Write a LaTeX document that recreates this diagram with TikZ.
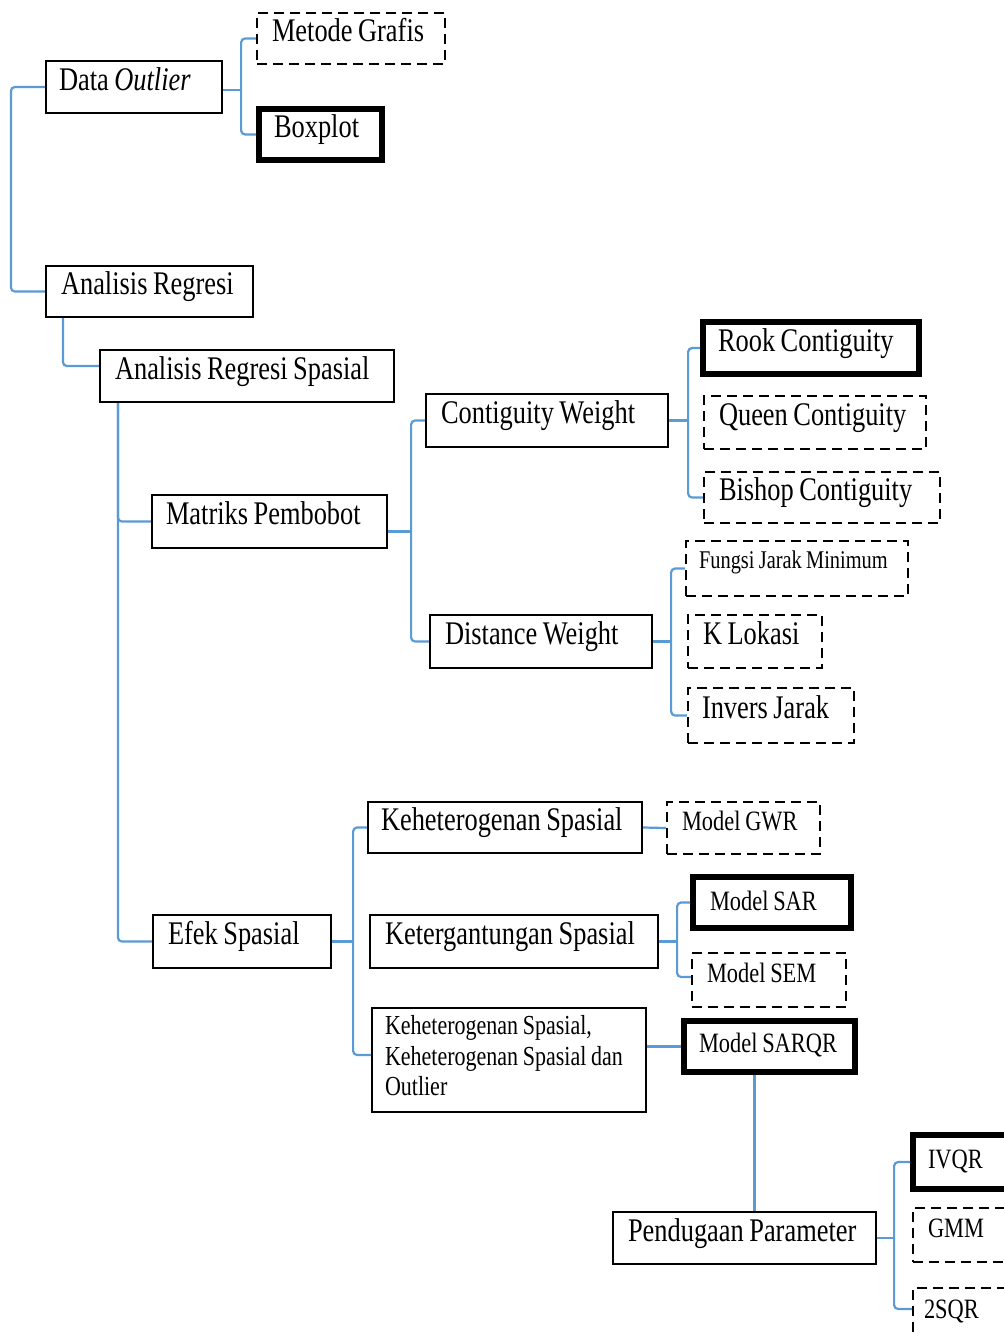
\documentclass[tikz,border=0pt]{standalone}
\usepackage{fontspec}
\setmainfont[FakeStretch=0.8]{Liberation Serif}
\newcommand\FntBig{\fontsize{33}{36}\selectfont\fontdimen2\font=5.5pt\fontdimen3\font=0pt\fontdimen4\font=0pt}
\newcommand\FntSm{\fontsize{28}{30}\selectfont\fontdimen2\font=4.8pt\fontdimen3\font=0pt\fontdimen4\font=0pt}
\newcommand\FntFj{\fontsize{25.5}{28}\selectfont\fontdimen2\font=4.3pt\fontdimen3\font=0pt\fontdimen4\font=0pt}
\newcommand\FntTl{\fontsize{27.5}{30.5}\selectfont\fontdimen2\font=4.7pt\fontdimen3\font=0pt\fontdimen4\font=0pt}
\definecolor{connblue}{RGB}{91,155,213}
\tikzset{
  bx/.style={rectangle, draw=black, line width=2.2pt, fill=white, inner xsep=15pt, inner ysep=0pt, align=left,
    execute at begin node={\spaceskip=0pt\xspaceskip=0pt}},
  bg/.style={font=\FntBig, text height=24pt, text depth=18pt},
  sm/.style={font=\FntSm, text height=20pt, text depth=#1},
  sm/.default=16pt,
  thk/.style={line width=6pt},
  dsh/.style={dash pattern=on 10pt off 6pt},
  wh/.style 2 args={minimum width=#1pt, minimum height=#2pt},
  conn/.style={draw=connblue, line width=2.2pt, rounded corners=4pt},
}
\begin{document}
\begin{tikzpicture}[x=1pt,y=-1pt]
\useasboundingbox (0,0) rectangle (1004,1336);
\clip (0,0) rectangle (1004,1336);
\fill[white] (0,0) rectangle (1004,1336);

% top part
\node[bx, bg, dsh, wh={188}{51}, text width=158pt] (MG) at (351,38.5) {\mbox{Metode Grafis}};
\node[bx, bg, wh={176}{52}, text width=150pt, inner xsep=13pt] (DO) at (134,87) {\mbox{Data \textit{Outlier}}};
\node[bx, bg, thk, wh={123}{51}, text width=93pt] (BP) at (320.5,134.5) {\mbox{Boxplot}};
\node[bx, bg, wh={207}{51}, text width=177pt] (AR) at (149.5,291.5) {\mbox{Analisis Regresi}};
\node[bx, bg, wh={294}{52}, text width=264pt] (ARS) at (247,376) {\mbox{Analisis Regresi Spasial}};

% matriks pembobot
\node[bx, bg, wh={235}{53}, text width=207pt, inner xsep=14pt] (MP) at (269.5,521.5) {\mbox{Matriks Pembobot}};
\node[bx, bg, wh={242}{53}, text width=212pt] (CW) at (547,420.5) {\mbox{Contiguity Weight}};
\node[bx, bg, thk, wh={216}{52}, text width=186pt] (RC) at (811,348) {\mbox{Rook Contiguity}};
\node[bx, bg, dsh, wh={222}{53}, text width=192pt] (QC) at (815,422.5) {\mbox{Queen Contiguity}};
\node[bx, bg, dsh, wh={236}{51}, text width=206pt] (BC) at (822,497.5) {\mbox{Bishop Contiguity}};
\node[bx, bg, wh={222}{53}, text width=192pt] (DW) at (541,641.5) {\mbox{Distance Weight}};
\node[bx, dsh, font=\FntFj, text height=18pt, text depth=19pt, inner xsep=13pt, wh={222}{55}, text width=196pt] (FJ) at (797,568.5) {\mbox{Fungsi Jarak Minimum}};
\node[bx, bg, dsh, wh={134}{53}, text width=104pt] (KL) at (755,641.5) {\mbox{K Lokasi}};
\node[bx, bg, dsh, wh={166}{55}, text width=138pt, inner xsep=14pt] (IJ) at (771,715.5) {\mbox{Invers Jarak}};

% efek spasial
\node[bx, bg, wh={178}{53}, text width=148pt] (ES) at (242,941.5) {\mbox{Efek Spasial}};
\node[bx, bg, wh={274}{51}, text width=248pt, inner xsep=13pt] (KS) at (505,827.5) {\mbox{Keheterogenan Spasial}};
\node[bx, bg, wh={288}{53}, text width=258pt] (KT) at (514,941.5) {\mbox{Ketergantungan Spasial}};
\node[bx, font=\FntTl, wh={274}{104}, text width=248pt, inner xsep=13pt] (KSO) at (509,1060) {\mbox{Keheterogenan Spasial,}\\\mbox{Keheterogenan Spasial dan}\\Outlier\rule[-9pt]{0pt}{9pt}};
\node[bx, sm, dsh, wh={153}{52}, text width=123pt] (GWR) at (743.5,828) {\mbox{Model GWR}};
\node[bx, sm=5pt, thk, wh={154}{51}, text width=124pt, inner xsep=17pt] (SAR) at (772,902.5) {\mbox{Model SAR}};
\node[bx, sm, dsh, wh={154}{54}, text width=124pt] (SEM) at (769,980) {\mbox{Model SEM}};
\node[bx, sm=9pt, thk, wh={171}{51}, text width=141pt] (SARQR) at (769.5,1046.5) {\mbox{Model SARQR}};

% pendugaan parameter
\node[bx, bg, wh={263}{52}, text width=233pt] (PP) at (744.5,1238) {\mbox{Pendugaan Parameter}};
\node[bx, sm=8pt, thk, wh={107}{54}, text width=77pt] (IVQR) at (966.5,1162) {\mbox{IVQR}};
\node[bx, sm, dsh, wh={107}{54}, text width=77pt] (GMM) at (966.5,1235) {\mbox{GMM}};
\node[bx, sm, dsh, wh={107}{56}, text width=85pt, inner xsep=11pt] (SQR) at (966.5,1316) {\mbox{2SQR}};

% connectors
\draw[conn] (DO.west) -| ([xshift=-34pt]AR.west) -- (AR.west);
\draw[conn] ([yshift=-3pt]DO.east) -- ++(18,0) coordinate (jDO);
\draw[conn] (MG.west) -| (jDO) |- (BP.west);
\draw[conn] ([xshift=18pt]AR.south west) |- ([yshift=10pt]ARS.west);
\draw[conn] ([xshift=19pt]ARS.south west) |- (ES.west);
\draw[conn] ([xshift=19pt]ARS.south west) |- (MP.west);

\draw[conn] ([yshift=-10pt]MP.east) -- ++(23,0) coordinate (jMP);
\draw[conn] (CW.west) -| (jMP) |- (DW.west);
\draw[conn] (CW.east) -- ++(19,0) coordinate (jCW);
\draw[conn] (RC.west) -| (jCW) |- (BC.west);
\draw[conn] (DW.east) -- ++(18,0) coordinate (jDW);
\draw[conn] (FJ.west) -| (jDW) |- (IJ.west);

\draw[conn] (ES.east) -- ++(21,0) coordinate (jES);
\draw[conn] (KS.west) -| (jES) |- ([yshift=5pt]KSO.west);
\draw[conn] (KT.east) -- ++(18,0) coordinate (jKT);
\draw[conn] (SAR.west) -| (jKT) |- ([yshift=3pt]SEM.west);
\draw[conn] (KS.east) -- (GWR.west);
\draw[conn] (KSO.east |- SARQR.west) -- (SARQR.west);
\draw[conn] ([xshift=-15pt]SARQR.south) -- ([xshift=-15pt]SARQR.south |- PP.north);
\draw[conn] (PP.east) -- ++(17,0) coordinate (jPP);
\draw[conn] (IVQR.west) -| (jPP) |- ([yshift=7pt]SQR.west);
\end{tikzpicture}
\end{document}
